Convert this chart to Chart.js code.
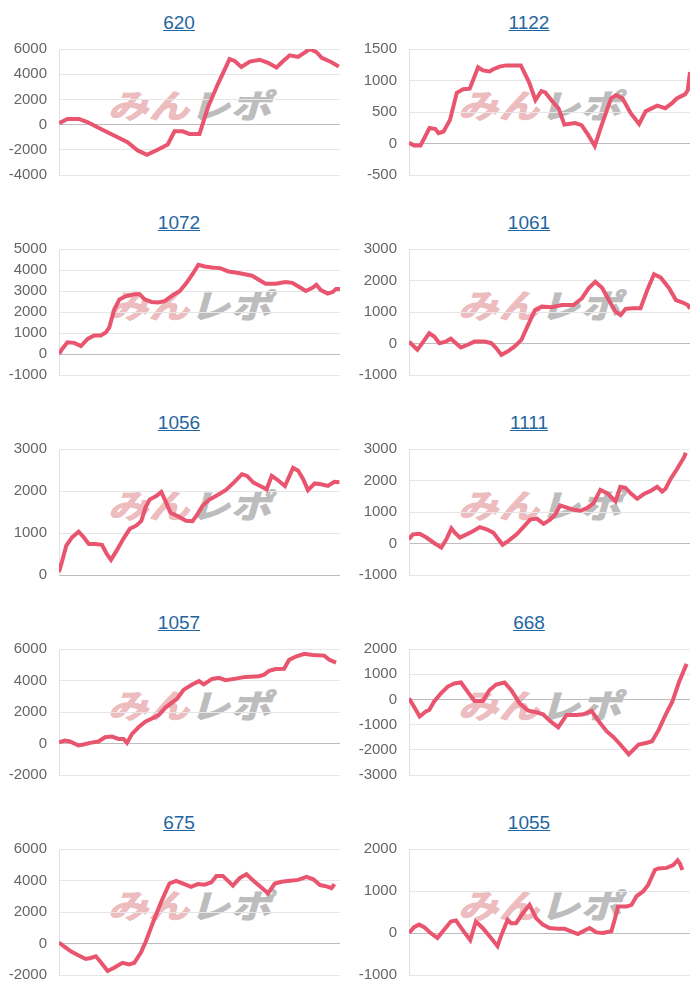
<!DOCTYPE html>
<html lang="ja">
<head>
<meta charset="utf-8">
<title>みんレポ グラフ</title>
<script src="https://cdn.jsdelivr.net/npm/chart.js@4.4.1/dist/chart.umd.min.js"></script>
<style>
    body { margin: 0; background: #fff; font-family: "Liberation Sans", Arial, sans-serif; }
    #grid { width: 700px; display: flex; flex-wrap: wrap; }
    .panel { position: relative; width: 350px; height: 200px; }
    .panel .title { position: absolute; top: 12px; left: 0; width: 358px; text-align: center; font-size: 19px; line-height: 22px; }
    .panel .title a { color: #1f66a0; text-decoration: underline; }
    .panel .wm {
        position: absolute; left: 112px; top: 84px; z-index: 0;
        font-family: "Noto Sans CJK JP", sans-serif; font-weight: 700; font-size: 40px; line-height: 40px;
        letter-spacing: 1px; transform: skewX(-16deg) scaleY(0.82); transform-origin: left center;
        white-space: nowrap; -webkit-text-stroke: 1.5px;
    }
    .panel .wm .a { color: #ecbcbf; -webkit-text-stroke-color: #ecbcbf; }
    .panel .wm .b { color: #bdbdbd; -webkit-text-stroke-color: #bdbdbd; }
    .panel .box { position: absolute; top: 28px; left: 0; width: 350px; height: 168px; z-index: 1; }
</style>
</head>
<body>
<div id="grid"></div>
<script>
// chart titles (machine numbers)
const titles = ['620', '1122', '1072', '1061', '1056', '1111', '1057', '668', '675', '1055'];

// y axis ticks for each chart
const yMins  = [-4000, -500, -1000, -1000, 0, -1000, -2000, -3000, -2000, -1000];
const yMaxs  = [6000, 1500, 5000, 3000, 3000, 3000, 6000, 2000, 6000, 2000];
const ySteps = [2000, 500, 1000, 1000, 1000, 1000, 2000, 1000, 2000, 1000];

// series: [progress %, medals]
const s620 = [[0,100],[3,450],[7.1,450],[10.1,200],[14.9,-350],[19.6,-870],[24.4,-1400],[28,-2050],[31.3,-2400],[35.1,-2000],[38.7,-1580],[41.1,-530],[44,-530],[46.4,-740],[50,-740],[53,1370],[56.5,3200],[60.7,5200],[62.5,5050],[64.9,4580],[67.9,5000],[71.4,5150],[74.4,4900],[77.4,4530],[79.8,5050],[82.1,5500],[85.1,5370],[89.3,6000],[91.7,5740],[93.5,5300],[97,4950],[99.6,4600]];
const s1122 = [[0,10],[1.8,-30],[4.1,-30],[7.3,245],[9.4,230],[10.5,165],[12.3,190],[14.6,375],[17,805],[19.3,860],[21.6,870],[24.6,1210],[26.3,1160],[28.7,1145],[29.8,1175],[32.2,1220],[34.5,1240],[39.8,1240],[42.7,975],[45,690],[47.1,830],[48.5,810],[50.9,675],[53.2,560],[55.3,300],[56.7,310],[59.1,325],[61.4,290],[63.7,140],[66.1,-40],[68.4,270],[71.9,715],[73.7,770],[76,715],[78.9,480],[81.9,310],[84.2,510],[88.3,600],[91.2,560],[93.6,640],[95.3,715],[98.2,780],[99.2,845],[100,1135]];
const s1072 = [[0,0],[1.2,250],[3,560],[5.4,530],[7.8,375],[10.2,720],[12.5,880],[14.9,880],[16.7,1030],[17.9,1270],[19.7,2130],[21.5,2600],[23.9,2760],[26.9,2840],[28.7,2840],[30.5,2600],[32.9,2480],[35.2,2450],[37.6,2520],[40,2760],[43,3000],[45.4,3390],[47.8,3860],[49.6,4250],[51.9,4170],[54.4,4120],[57.3,4090],[60.3,3930],[63.9,3860],[68.7,3730],[71.1,3540],[73.5,3350],[77.1,3350],[80.6,3430],[83,3390],[85.4,3200],[87.8,3000],[90.2,3150],[91.6,3300],[93.2,3040],[95.6,2880],[97.4,2950],[98.6,3100],[100,3100]];
const s1061 = [[0,60],[1.8,-95],[3,-200],[5.1,60],[7.2,325],[9,220],[10.8,10],[13.1,60],[14.9,150],[16.7,10],[18.5,-125],[20.9,-40],[23.3,60],[26.9,60],[29.3,10],[31.1,-150],[32.9,-360],[35.2,-250],[37.6,-95],[40,115],[42.4,590],[44.8,1060],[47.2,1170],[50.8,1150],[54.4,1220],[58.5,1220],[61.5,1430],[63.9,1750],[66.3,1960],[68.7,1770],[71.1,1380],[73.5,1010],[75.3,905],[77.1,1100],[79.5,1120],[82.4,1120],[84.8,1700],[87.2,2200],[89.6,2090],[92.6,1750],[95,1380],[97.4,1300],[99.2,1220],[100,1100]];
const s1056 = [[0,70],[1.2,350],[2.6,700],[4.7,900],[7,1030],[8.8,900],[10.6,740],[12.9,740],[15.3,720],[17,500],[18.5,360],[20.5,580],[22.9,860],[25.2,1100],[27.6,1180],[29.3,1290],[30.8,1610],[32.3,1800],[34.6,1880],[36.4,1980],[37.9,1760],[39.7,1480],[42.3,1400],[45.2,1290],[47.5,1280],[49.3,1450],[51.1,1650],[53.4,1790],[56.3,1900],[59.3,2020],[62.2,2200],[65.1,2400],[66.9,2360],[69.2,2200],[71.6,2120],[73.9,2040],[75.7,2360],[77.5,2280],[80.4,2120],[83.3,2550],[85.1,2480],[86.9,2280],[88.6,2020],[91,2180],[93.3,2160],[95.7,2120],[98,2220],[99.8,2210]];
const s1111 = [[0,135],[1.4,290],[3.8,310],[6.2,190],[9.2,0],[11.5,-125],[13.3,135],[15.1,480],[16.3,345],[18.1,190],[20.5,290],[22.9,395],[25.2,520],[27.6,450],[30,345],[31.8,135],[33.3,-40],[35.4,85],[38.3,290],[40.7,520],[43.1,760],[45.5,790],[47.9,625],[50.2,760],[52,915],[53.8,1210],[56.2,1140],[58.6,1070],[61,1040],[63.3,1120],[65.7,1280],[68.1,1700],[70.5,1600],[73.5,1340],[75.2,1800],[77,1770],[78.8,1600],[81.2,1420],[83.6,1570],[86,1670],[88.3,1800],[90.1,1650],[91.3,1740],[93.1,2050],[95.5,2380],[97.9,2740],[98.5,2880]];
const s1057 = [[0,80],[2.1,190],[3.9,125],[6.9,-125],[8.7,-60],[11.1,40],[14,125],[16.4,400],[18.8,440],[21.2,290],[23,290],[24.2,40],[26,610],[28.3,1030],[30.7,1380],[33.1,1590],[35.5,1800],[37.9,2280],[40.2,2590],[42,2840],[44.4,3420],[47.4,3750],[49.8,3960],[51.5,3750],[54.5,4100],[56.9,4170],[59.3,4020],[62.9,4120],[66.4,4230],[71.2,4270],[73,4370],[74.8,4620],[77.1,4730],[80.1,4750],[81.9,5310],[84.3,5520],[87.3,5690],[90.2,5620],[94.4,5580],[96.2,5310],[98.6,5140]];
const s668 = [[0,40],[1.8,-290],[3.8,-680],[6,-480],[7.2,-420],[8.9,-90],[11.3,235],[13.7,500],[16.1,630],[18.5,670],[20.9,300],[23.3,-65],[26.3,-65],[28.6,365],[31,590],[34,670],[36.4,365],[39.4,-160],[42.4,-445],[45.3,-510],[47.7,-590],[50.1,-850],[53.1,-1110],[56.1,-615],[59.7,-615],[62.1,-590],[65,-460],[68,-940],[70.4,-1270],[72.8,-1500],[75.2,-1790],[78.2,-2180],[80,-1980],[81.7,-1790],[84.7,-1720],[86.5,-1660],[88.9,-1200],[91.3,-615],[93.7,-90],[96.1,690],[98.8,1410]];
const s675 = [[0,60],[1.8,-190],[4.2,-500],[6.5,-710],[9.5,-980],[11.3,-920],[13.1,-810],[14.9,-1190],[17.3,-1750],[19.6,-1540],[22.6,-1230],[25,-1330],[26.8,-1230],[29.2,-560],[30.9,125],[33.3,1270],[36.3,2620],[39.3,3810],[41.7,3980],[44.6,3770],[47,3600],[49.4,3770],[51.8,3730],[54.2,3880],[56,4290],[58.3,4290],[61.9,3670],[64.3,4150],[66.7,4400],[69,4020],[72,3560],[74.4,3190],[76.8,3810],[79.2,3920],[82.1,3980],[85.1,4040],[88.1,4230],[90.5,4080],[92.9,3710],[95.2,3630],[97,3520],[98,3770]];
const s1055 = [[0,0],[1.8,140],[3.6,200],[5.4,140],[7.7,0],[10.1,-120],[12.5,80],[14.9,275],[16.7,300],[19,80],[21.8,-170],[23.8,275],[26.2,120],[29.2,-120],[31.5,-315],[32.7,-80],[35.1,315],[36.3,235],[38.1,235],[40.5,470],[42.9,670],[45.2,355],[47.6,200],[50,120],[53,100],[55.4,100],[57.7,40],[60.1,-25],[62.5,60],[64.3,120],[66.7,15],[69,0],[72,40],[73.2,315],[74.4,630],[77.4,630],[79.2,670],[81,880],[83.3,990],[85.1,1145],[87.5,1500],[88.7,1535],[91.7,1550],[94,1615],[95.6,1730],[96.4,1655],[97.3,1500]];

const series = [s620, s1122, s1072, s1061, s1056, s1111, s1057, s668, s675, s1055];

const grid = document.getElementById('grid');

titles.forEach((title, i) => {
    const panel = document.createElement('div');
    panel.className = 'panel';
    panel.innerHTML = `
        <div class="title"><a href="#">${title}</a></div>
        <div class="wm"><span class="a">みん</span><span class="b">レポ</span></div>
        <div class="box"><canvas id="c${i}"></canvas></div>`;
    grid.appendChild(panel);

    new Chart(document.getElementById(`c${i}`), {
        type: 'line',
        data: {
            datasets: [{
                data: series[i].map(p => ({ x: p[0], y: p[1] })),
                borderColor: '#e9546f',
                borderWidth: 4,
                pointRadius: 0,
                tension: 0,
                fill: false
            }]
        },
        options: {
            responsive: true,
            maintainAspectRatio: false,
            animation: false,
            layout: { padding: { left: 0, right: 10, top: 2, bottom: 2 } },
            scales: {
                x: { type: 'linear', min: 0, max: 100, display: false },
                y: {
                    min: yMins[i],
                    max: yMaxs[i],
                    afterFit: scale => { scale.width = 59; },
                    ticks: {
                        stepSize: ySteps[i],
                        padding: 12,
                        color: '#666',
                        font: { family: '"Liberation Sans", Arial, sans-serif', size: 15 },
                        callback: value => String(value)
                    },
                    grid: {
                        drawTicks: false,
                        color: ctx => (ctx.tick && ctx.tick.value === 0) ? '#bdbdbd' : '#e6e6e6'
                    },
                    border: { color: '#e0e0e0' }
                }
            },
            plugins: {
                legend: { display: false },
                tooltip: { enabled: false }
            }
        }
    });
});
</script>
</body>
</html>
